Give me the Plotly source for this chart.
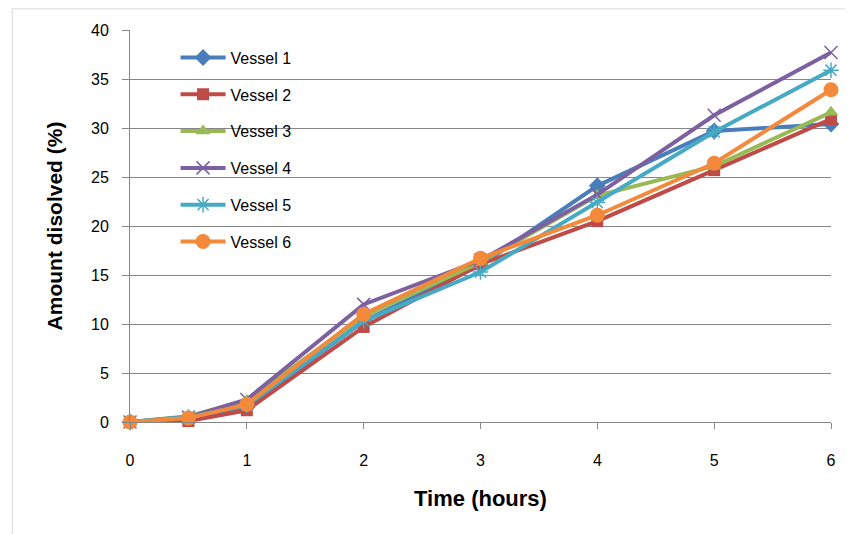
import plotly.graph_objects as go

time_h = [0, 0.5, 1, 2, 3, 4, 5, 6]
vessel1 = [0, 0.3, 1.5, 10.3, 16.0, 24.1, 29.7, 30.4]
vessel2 = [0, 0.1, 1.2, 9.7, 16.1, 20.5, 25.7, 30.9]
vessel3 = [0, 0.6, 2.2, 10.8, 16.3, 23.1, 26.1, 31.6]
vessel4 = [0, 0.5, 2.3, 12.0, 16.5, 23.2, 31.3, 37.7]
vessel5 = [0, 0.5, 1.7, 10.3, 15.3, 22.4, 29.6, 35.9]
vessel6 = [0, 0.4, 1.8, 11.0, 16.7, 21.1, 26.4, 33.9]
names = ["Vessel 1", "Vessel 2", "Vessel 3", "Vessel 4", "Vessel 5", "Vessel 6"]
x_ticks = [0, 1, 2, 3, 4, 5, 6]
y_ticks = [0, 5, 10, 15, 20, 25, 30, 35, 40]

series = [vessel1, vessel2, vessel3, vessel4, vessel5, vessel6]
colors = ["#4A7EBB", "#BE4B48", "#98B954", "#7D60A0", "#46AAC5", "#F38A3B"]
symbols = ["diamond", "square", "triangle-up", "x-thin-open", "asterisk-open", "circle"]
sizes = [13, 12, 13, 13, 13, 15]

fig = go.Figure()
for i, (nm, ys) in enumerate(zip(names, series)):
    mk = dict(symbol=symbols[i], size=sizes[i], color=colors[i])
    if "open" in symbols[i]:
        mk["line"] = dict(color=colors[i], width=1.5)
    fig.add_trace(go.Scatter(
        x=time_h, y=ys, name=nm, mode="lines+markers",
        line=dict(color=colors[i], width=4),
        marker=mk, legendgroup=nm, cliponaxis=False,
    ))

font_main = "Liberation Sans, Arial, sans-serif"

fig.update_layout(
    width=845, height=526,
    margin=dict(l=122, r=22, t=22, b=112),
    paper_bgcolor="white", plot_bgcolor="white",
    showlegend=True,
    legend=dict(x=0.065, y=0.973, xanchor="left", yanchor="top",
                font=dict(family=font_main, size=16, color="black"),
                bgcolor="rgba(0,0,0,0)", tracegroupgap=13, itemwidth=45),
    xaxis=dict(range=[0, 6], tickvals=x_ticks, ticktext=[str(v) for v in x_ticks],
               showgrid=False, showline=True, linecolor="#868686", linewidth=1,
               ticks="outside", ticklen=6, tickcolor="#868686",
               ticklabelstandoff=18, automargin=False,
               tickfont=dict(family=font_main, size=16, color="black"),
               title=dict(text="<b>Time (hours)</b>", standoff=22,
                          font=dict(family=font_main, size=22, color="black")),
               zeroline=False),
    yaxis=dict(range=[0, 40], tickvals=y_ticks,
               showgrid=True, gridcolor="#868686", gridwidth=1,
               showline=True, linecolor="#868686", linewidth=1,
               ticks="outside", ticklen=7, tickcolor="#868686",
               ticklabelstandoff=10, automargin=False,
               tickfont=dict(family=font_main, size=16, color="black"),
               title=dict(text="<b>Amount disolved (%)</b>", standoff=22,
                          font=dict(family=font_main, size=21, color="black")),
               zeroline=False),
    shapes=[dict(type="rect", xref="paper", yref="paper",
                 x0=-0.168, x1=1.5, y0=-1.0, y1=1.054,
                 line=dict(color="#D9D9D9", width=1), fillcolor="rgba(0,0,0,0)")],
)

fig.write_html("out.html")
